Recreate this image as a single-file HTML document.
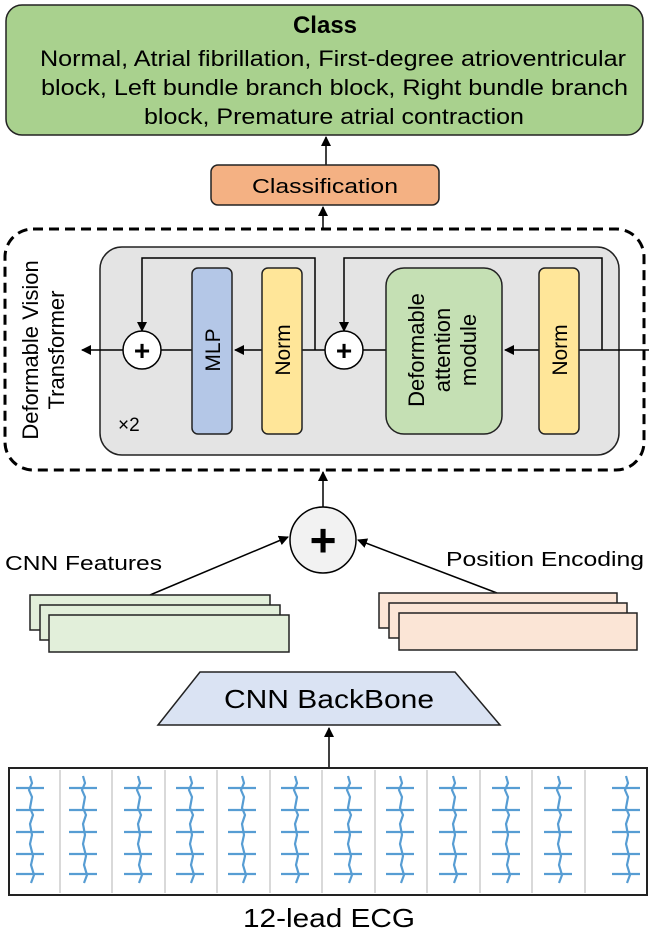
<!DOCTYPE html>
<html><head><meta charset="utf-8"><style>
html,body{margin:0;padding:0;background:#fff;}
svg{display:block;font-family:"Liberation Sans",Arial,sans-serif;}
</style></head><body>
<svg width="649" height="935" viewBox="0 0 649 935" xmlns="http://www.w3.org/2000/svg">
<defs>
<marker id="ar" markerWidth="10" markerHeight="10" refX="9" refY="5" orient="auto" markerUnits="userSpaceOnUse">
<path d="M0,0 L10,5 L0,10 z" fill="#000"/></marker>
<path id="e" d="M0,0 l2,7 l-3,7 l3,7 l-2,11 l3,7 l-3,9 l2,11 l-2,9 l3,12 l-2,9 l3,10 l-3,8 M-14,12 h28 M-14,34 h28 M-14,56 h28 M-14,78 h28 M-14,98 h28"/>
</defs>
<rect x="6" y="5" width="637" height="130" rx="16" fill="#a9d18e" stroke="#222" stroke-width="1.5"/>
<text x="325" y="33" font-size="24" font-weight="bold" text-anchor="middle">Class</text>
<text x="40" y="66" font-size="22" textLength="586" lengthAdjust="spacingAndGlyphs">Normal, Atrial fibrillation, First-degree atrioventricular</text>
<text x="41" y="95" font-size="22" textLength="587" lengthAdjust="spacingAndGlyphs">block, Left bundle branch block, Right bundle branch</text>
<text x="144" y="124" font-size="22" textLength="380" lengthAdjust="spacingAndGlyphs">block, Premature atrial contraction</text>
<line x1="326" y1="165" x2="326" y2="137" stroke="#000" stroke-width="1.5" marker-end="url(#ar)"/>
<rect x="211" y="165" width="228" height="40" rx="7" fill="#f4b183" stroke="#222" stroke-width="1.5"/>
<text x="325" y="193" font-size="20" text-anchor="middle" textLength="146" lengthAdjust="spacingAndGlyphs">Classification</text>
<line x1="323" y1="229" x2="323" y2="207" stroke="#000" stroke-width="1.5" marker-end="url(#ar)"/>
<rect x="5" y="229" width="639" height="241" rx="28" fill="none" stroke="#000" stroke-width="3" stroke-dasharray="10,6"/>
<text transform="translate(38,350) rotate(-90)" font-size="22" text-anchor="middle">Deformable Vision</text>
<text transform="translate(64,350) rotate(-90)" font-size="22" text-anchor="middle">Transformer</text>
<rect x="100" y="247" width="519" height="208" rx="22" fill="#e4e4e4" stroke="#222" stroke-width="1.5"/>
<line x1="649" y1="350" x2="505" y2="350" stroke="#000" stroke-width="1.5" marker-end="url(#ar)"/>
<polyline points="602,350 602,258 344,258 344,331" fill="none" stroke="#000" stroke-width="1.5" marker-end="url(#ar)"/>
<line x1="386" y1="350" x2="362" y2="350" stroke="#000" stroke-width="1.5"/>
<line x1="325" y1="350" x2="302" y2="350" stroke="#000" stroke-width="1.5"/>
<polyline points="315,350 315,258 142,258 142,331" fill="none" stroke="#000" stroke-width="1.5" marker-end="url(#ar)"/>
<line x1="262" y1="350" x2="235" y2="350" stroke="#000" stroke-width="1.5" marker-end="url(#ar)"/>
<line x1="192" y1="350" x2="160" y2="350" stroke="#000" stroke-width="1.5"/>
<line x1="123" y1="350" x2="82" y2="350" stroke="#000" stroke-width="1.5" marker-end="url(#ar)"/>
<circle cx="142" cy="350" r="19" fill="#fff" stroke="#000" stroke-width="1.5"/>
<text x="142" y="360" font-size="28" font-weight="bold" text-anchor="middle">+</text>
<circle cx="344" cy="350" r="19" fill="#fff" stroke="#000" stroke-width="1.5"/>
<text x="344" y="360" font-size="28" font-weight="bold" text-anchor="middle">+</text>
<rect x="192" y="268" width="40" height="166" rx="6" fill="#b4c7e7" stroke="#222" stroke-width="1.5"/>
<text transform="translate(220,350) rotate(-90)" font-size="21" text-anchor="middle">MLP</text>
<rect x="262" y="268" width="40" height="166" rx="6" fill="#ffe699" stroke="#222" stroke-width="1.5"/>
<text transform="translate(290,350) rotate(-90)" font-size="21" text-anchor="middle">Norm</text>
<rect x="386" y="268" width="116" height="166" rx="18" fill="#c5e0b4" stroke="#222" stroke-width="1.5"/>
<text transform="translate(424,350) rotate(-90)" font-size="22" text-anchor="middle">Deformable</text>
<text transform="translate(450,350) rotate(-90)" font-size="22" text-anchor="middle">attention</text>
<text transform="translate(476,350) rotate(-90)" font-size="22" text-anchor="middle">module</text>
<rect x="539" y="268" width="40" height="166" rx="6" fill="#ffe699" stroke="#222" stroke-width="1.5"/>
<text transform="translate(567,350) rotate(-90)" font-size="21" text-anchor="middle">Norm</text>
<text x="118" y="431" font-size="19">×2</text>
<line x1="323" y1="507" x2="323" y2="472" stroke="#000" stroke-width="1.5" marker-end="url(#ar)"/>
<circle cx="323" cy="540" r="33" fill="#f2f2f2" stroke="#000" stroke-width="1.5"/>
<text x="323" y="556" font-size="46" font-weight="bold" text-anchor="middle">+</text>
<line x1="150" y1="595" x2="288" y2="537" stroke="#000" stroke-width="1.5" marker-end="url(#ar)"/>
<line x1="497" y1="593" x2="358" y2="540" stroke="#000" stroke-width="1.5" marker-end="url(#ar)"/>
<text x="5" y="570" font-size="20" textLength="157" lengthAdjust="spacingAndGlyphs">CNN Features</text>
<text x="446" y="566" font-size="20" textLength="198" lengthAdjust="spacingAndGlyphs">Position Encoding</text>
<rect x="30" y="595" width="240" height="35" fill="#e2efda" stroke="#222" stroke-width="1.5"/>
<rect x="40" y="605" width="240" height="35" fill="#e2efda" stroke="#222" stroke-width="1.5"/>
<rect x="49" y="615" width="240" height="37" fill="#e2efda" stroke="#222" stroke-width="1.5"/>
<rect x="379" y="593" width="238" height="35" fill="#fbe5d6" stroke="#222" stroke-width="1.5"/>
<rect x="389" y="603" width="238" height="35" fill="#fbe5d6" stroke="#222" stroke-width="1.5"/>
<rect x="399" y="613" width="238" height="37" fill="#fbe5d6" stroke="#222" stroke-width="1.5"/>
<polygon points="200,672 455,672 500,725 158,725" fill="#dae3f3" stroke="#222" stroke-width="1.5"/>
<text x="329" y="708" font-size="26" text-anchor="middle" textLength="210" lengthAdjust="spacingAndGlyphs">CNN BackBone</text>
<line x1="329" y1="768" x2="329" y2="728" stroke="#000" stroke-width="1.5" marker-end="url(#ar)"/>
<rect x="9" y="768" width="638" height="127" fill="#fff" stroke="#222" stroke-width="2"/>
<g stroke="#ccc" stroke-width="1.5">
<line x1="60" y1="770" x2="60" y2="893"/><line x1="112" y1="770" x2="112" y2="893"/><line x1="165" y1="770" x2="165" y2="893"/><line x1="217" y1="770" x2="217" y2="893"/><line x1="270" y1="770" x2="270" y2="893"/><line x1="322" y1="770" x2="322" y2="893"/><line x1="375" y1="770" x2="375" y2="893"/><line x1="427" y1="770" x2="427" y2="893"/><line x1="480" y1="770" x2="480" y2="893"/><line x1="532" y1="770" x2="532" y2="893"/><line x1="585" y1="770" x2="585" y2="893"/>
</g>
<g stroke="#3a8ccc" stroke-width="2.2" fill="none" opacity="0.85">
<use href="#e" x="30" y="776"/><use href="#e" x="83" y="776"/><use href="#e" x="138" y="776"/><use href="#e" x="190" y="776"/><use href="#e" x="242" y="776"/><use href="#e" x="295" y="776"/><use href="#e" x="348" y="776"/><use href="#e" x="400" y="776"/><use href="#e" x="453" y="776"/><use href="#e" x="506" y="776"/><use href="#e" x="558" y="776"/><use href="#e" x="626" y="776"/>
</g>
<text x="329" y="927" font-size="26" text-anchor="middle" textLength="172" lengthAdjust="spacingAndGlyphs">12-lead ECG</text>
</svg>
</body></html>
